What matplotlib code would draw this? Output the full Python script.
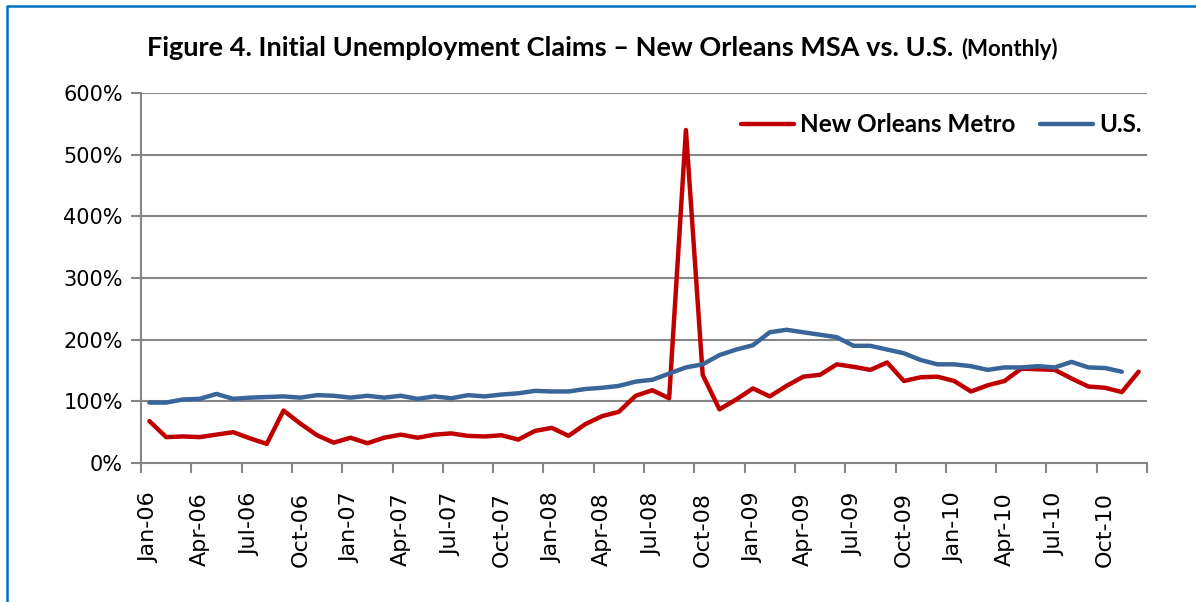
import numpy as np
import pandas as pd
import matplotlib
matplotlib.use('Agg')
import matplotlib.pyplot as plt
from matplotlib.lines import Line2D

# Meses (eje de categorias) Ene-2006 .. Dic-2010
months = pd.date_range('2006-01-01', periods=60, freq='MS').strftime('%b-%y').tolist()

# Reclamos iniciales, % respecto a base (lectura aproximada del grafico)
new_orleans = [68, 42, 43, 42, 46, 50, 40, 31, 85, 64,
               45, 33, 41, 32, 41, 46, 41, 46, 48, 44,
               43, 45, 38, 52, 57, 44, 63, 76, 83, 109,
               118, 105, 540, 143, 87, 103, 121, 108, 125, 140,
               143, 160, 156, 151, 163, 133, 139, 140, 133, 116,
               126, 133, 153, 152, 151, 137, 124, 122, 115, 148]

us = [98, 98, 103, 104, 112, 104, 106, 107, 108, 106,
      110, 109, 106, 109, 106, 109, 104, 108, 105, 110,
      108, 111, 113, 117, 116, 116, 120, 122, 125, 132,
      135, 145, 155, 160, 175, 184, 191, 212, 216, 212,
      208, 204, 190, 190, 184, 178, 167, 160, 160, 157,
      151, 155, 155, 157, 155, 164, 155, 154, 148]

yticks = [0, 100, 200, 300, 400, 500, 600]

red = '#C00000'
blue = '#3A6598'
grey = '#868686'

fig = plt.figure(figsize=(11.96, 6.02), dpi=100)
ax = fig.add_axes([141 / 1196, 1 - 463 / 602, (1147 - 141) / 1196, (463 - 93) / 602])

ax.plot(range(len(new_orleans)), new_orleans, color=red, lw=3.2,
        solid_joinstyle='round', solid_capstyle='round', label='New Orleans Metro', zorder=3)
ax.plot(range(len(us)), us, color=blue, lw=3.2,
        solid_joinstyle='round', solid_capstyle='round', label='U.S.', zorder=3)

ax.set_xlim(-0.5, 59.5)
ax.set_ylim(0, 600)
ax.set_yticks(yticks)
ax.set_yticklabels([f'{v}%' for v in yticks], fontsize=15)
ax.yaxis.grid(True, color=grey, lw=1.5)
ax.set_axisbelow(True)

# marcas entre categorias, etiquetas cada 3 meses
ax.set_xticks(np.arange(-0.5, 60, 3))
ax.set_xticklabels([])
ax.set_xticks(np.arange(0, 60, 3), minor=True)
ax.set_xticklabels(months[::3], minor=True, rotation=90, fontsize=16)
ax.tick_params(axis='x', which='major', length=7, width=1.5, color=grey)
ax.tick_params(axis='x', which='minor', length=0, pad=21)
ax.tick_params(axis='y', length=7, width=1.5, color=grey, pad=6)

for s in ['top', 'right']:
    ax.spines[s].set_visible(False)
for s in ['left', 'bottom']:
    ax.spines[s].set_color(grey)
    ax.spines[s].set_linewidth(1.5)

leg = ax.legend(loc='center right', bbox_to_anchor=((1142 - 141) / 1006, (463 - 125) / 370),
                ncol=2, frameon=False, borderpad=0, borderaxespad=0,
                handlelength=2.2, handletextpad=0.25, columnspacing=1.0,
                prop={'family': 'Lato', 'weight': 'bold', 'size': 17.5})

# titulo en dos partes
t1 = fig.text(147 / 1196, 1 - 48 / 602, 'Figure 4. Initial Unemployment Claims \u2013 New Orleans MSA vs. U.S.',
              fontfamily='Lato', fontweight='bold', fontsize=19.5, va='center', ha='left')
fig.canvas.draw()
bb = t1.get_window_extent()
fig.text((bb.x1 + 8) / 1196, 1 - 49 / 602, '(Monthly)', fontfamily='Lato', fontweight='bold',
         fontsize=16, va='center', ha='left')

# borde azul
fig.add_artist(Line2D([6.5 / 1196, 6.5 / 1196, 1.0], [0.0, 1 - 5.5 / 602, 1 - 5.5 / 602],
                      transform=fig.transFigure, color='#0070C0', lw=1.8))

fig.savefig('out.png', dpi=100)
